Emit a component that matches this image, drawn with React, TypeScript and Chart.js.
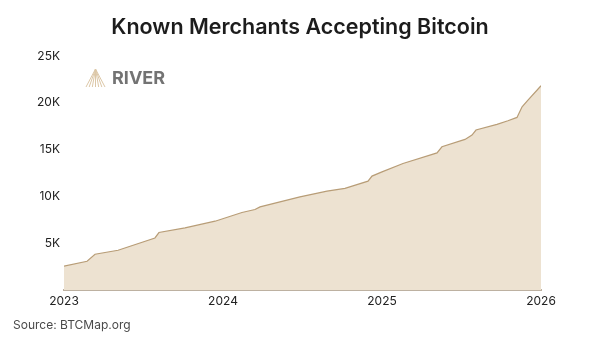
import React, { useEffect, useRef } from "react";
import { Chart, registerables } from "chart.js";

Chart.register(...registerables);

const years = [
  2023.0, 2023.145, 2023.195, 2023.34, 2023.572, 2023.597, 2023.761, 2023.95,
  2024.119, 2024.201, 2024.233, 2024.484, 2024.654, 2024.767, 2024.912, 2024.937,
  2025.0, 2025.132, 2025.346, 2025.377, 2025.522, 2025.566, 2025.591, 2025.723,
  2025.792, 2025.849, 2025.881, 2025.918, 2026.0,
];
const merchants = [
  2540, 3075, 3820, 4250, 5560, 6140, 6630, 7350,
  8280, 8600, 8880, 9950, 10560, 10850, 11630, 12170,
  12620, 13520, 14650, 15300, 16090, 16550, 17090, 17690,
  18080, 18440, 19570, 20290, 21820,
];
const xTicks = [2023, 2024, 2025, 2026];
const yTicks = [5000, 10000, 15000, 20000, 25000];
const title = "Known Merchants Accepting Bitcoin";
const source = "Source: BTCMap.org";
const brand = "RIVER";

const FONT = "Inter, 'Noto Sans', sans-serif";

const decorPlugin = {
  id: "decor",
  afterDraw(chart: any) {
    const ctx = chart.ctx as CanvasRenderingContext2D;
    ctx.save();
    // title
    ctx.fillStyle = "#1c1c1c";
    ctx.font = `600 21.5px ${FONT}`;
    ctx.textAlign = "center";
    ctx.textBaseline = "middle";
    ctx.fillText(title, 300, 28);
    // source
    ctx.fillStyle = "#4a4a4a";
    ctx.font = `12px ${FONT}`;
    ctx.textAlign = "left";
    ctx.fillText(source, 13, 325);
    // logo icon
    const ax = 95.5, ay = 69, by = 87, bl = 86, br = 105;
    ctx.strokeStyle = "#dcc7a7";
    ctx.lineWidth = 1;
    for (let i = 0; i <= 6; i++) {
      const bx = bl + ((br - bl) * i) / 6;
      ctx.beginPath();
      ctx.moveTo(ax, ay);
      ctx.lineTo(bx, by);
      ctx.stroke();
    }
    // brand
    ctx.fillStyle = "#737373";
    ctx.font = `700 18px ${FONT}`;
    ctx.textAlign = "left";
    ctx.textBaseline = "middle";
    ctx.fillText(brand, 112, 79);
    ctx.restore();
  },
};

export default function App() {
  const ref = useRef<HTMLCanvasElement>(null);
  useEffect(() => {
    document.body.style.margin = "0";
    const canvas = ref.current!;
    const chart = new Chart(canvas, {
      type: "line",
      data: {
        datasets: [
          {
            data: years.map((x, i) => ({ x, y: merchants[i] })),
            borderColor: "#b89d77",
            borderWidth: 1.2,
            backgroundColor: "#ede2d1",
            fill: "origin",
            pointRadius: 0,
            tension: 0,
          },
        ],
      },
      options: {
        responsive: false,
        animation: false,
        maintainAspectRatio: false,
        layout: { padding: { top: 56, right: 59, bottom: 0, left: 0 } },
        plugins: { legend: { display: false }, tooltip: { enabled: false } },
        scales: {
          x: {
            type: "linear",
            min: 2023,
            max: 2026,
            grid: { display: false, drawTicks: false },
            border: { display: true, color: "#bdb1a1", width: 2 },
            afterBuildTicks: (s: any) => {
              s.ticks = xTicks.map((v) => ({ value: v }));
            },
            afterFit: (s: any) => {
              s.height = 48;
            },
            ticks: {
              padding: 4,
              color: "#222",
              font: { family: FONT, size: 12 },
              maxRotation: 0,
              callback: (v: any) => String(v),
            },
          },
          y: {
            min: 0,
            max: 25000,
            grid: { display: false, drawTicks: false },
            border: { display: false },
            afterBuildTicks: (s: any) => {
              s.ticks = yTicks.map((v) => ({ value: v }));
            },
            afterFit: (s: any) => {
              s.width = 64;
            },
            ticks: {
              padding: 4,
              color: "#222",
              font: { family: FONT, size: 12 },
              callback: (v: any) => `${Number(v) / 1000}K`,
            },
          },
        },
      },
      plugins: [decorPlugin],
    });
    return () => chart.destroy();
  }, []);
  return (
    <div style={{ width: 600, height: 338, background: "#fff" }}>
      <canvas ref={ref} width={600} height={338} style={{ display: "block" }} />
    </div>
  );
}
